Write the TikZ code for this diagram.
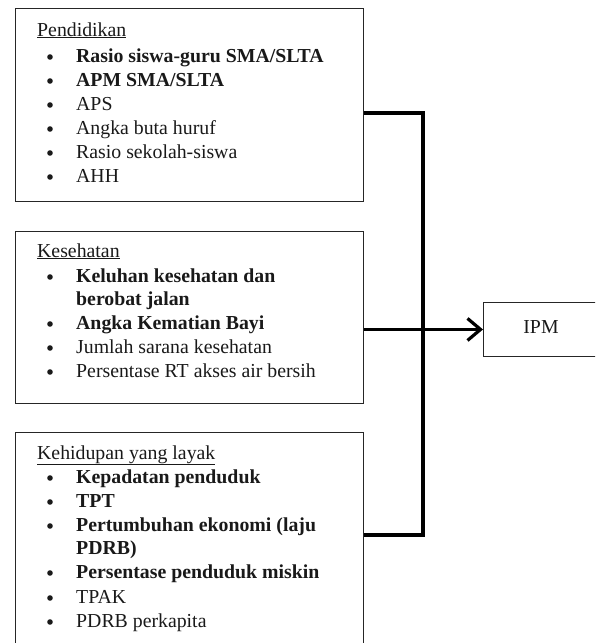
\documentclass[tikz,border=0pt]{standalone}
\usepackage{fontspec}
\setmainfont{Liberation Serif}
\usetikzlibrary{arrows.meta}
\begin{document}
\begin{tikzpicture}[x=1pt,y=-1pt,
  box/.style={draw=black!85,line width=0.9pt,rectangle,inner sep=0pt,anchor=north west},
  txt/.style={anchor=base west,inner sep=0pt,text=black!90,font=\fontsize{19.8}{24}\selectfont},
  bul/.style={circle,fill=black!90,inner sep=0pt,minimum size=5.6pt},
  conn/.style={line width=3.2pt,black}]
\useasboundingbox (0,0) rectangle (595,643);
\clip (0,0) rectangle (595,643);
% boxes
\node[box,minimum width=348pt,minimum height=193pt] (b1) at (15,8) {};
\node[box,minimum width=348pt,minimum height=172pt] (b2) at (15,231) {};
\node[box,minimum width=348pt,minimum height=230pt] (b3) at (15,432) {};
\node[box,minimum width=120pt,minimum height=54pt] (ipm) at (483,302) {};
\node[txt,anchor=base] (ipmt) at (541,333) {IPM};
% Pendidikan
\node[txt] (h1) at (37,36) {\underline{Pendidikan}};
\foreach \y/\t [count=\i] in {62/\textbf{Rasio siswa-guru SMA/SLTA},86/\textbf{APM SMA/SLTA},110/APS,134/Angka buta huruf,158/Rasio sekolah-siswa,182/AHH}{
  \node[bul] (p\i b) at (50,\y-5) {};
  \node[txt] (p\i) at (76,\y) {\t};
}
% Kesehatan
\node[txt] (h2) at (37,257) {\underline{Kesehatan}};
\node[bul] (k1b) at (50,277) {};
\node[txt] (k1) at (76,282) {\textbf{Keluhan kesehatan dan}};
\node[txt] (k1c) at (76,305) {\textbf{berobat jalan}};
\node[bul] (k2b) at (50,324) {};
\node[txt] (k2) at (76,329) {\textbf{Angka Kematian Bayi}};
\node[bul] (k3b) at (50,348) {};
\node[txt] (k3) at (76,353) {Jumlah sarana kesehatan};
\node[bul] (k4b) at (50,372) {};
\node[txt] (k4) at (76,377) {Persentase RT akses air bersih};
% Kehidupan yang layak
\node[txt] (h3) at (37,459) {\underline{Kehidupan yang layak}};
\node[bul] (l1b) at (50,478) {};
\node[txt] (l1) at (76,483) {\textbf{Kepadatan penduduk}};
\node[bul] (l2b) at (50,502) {};
\node[txt] (l2) at (76,507) {\textbf{TPT}};
\node[bul] (l3b) at (50,526) {};
\node[txt] (l3) at (76,531) {\textbf{Pertumbuhan ekonomi (laju}};
\node[txt] (l3c) at (76,554) {\textbf{PDRB)}};
\node[bul] (l4b) at (50,573) {};
\node[txt] (l4) at (76,578) {\textbf{Persentase penduduk miskin}};
\node[bul] (l5b) at (50,598) {};
\node[txt] (l5) at (76,603) {TPAK};
\node[bul] (l6b) at (50,622) {};
\node[txt] (l6) at (76,627) {PDRB perkapita};
% connectors
\coordinate (j1) at (423,113);
\coordinate (j3) at (423,535);
\draw[conn,line join=miter] (b1.east |- j1) -- (j1) -- (j3) -- (b3.east |- j3);
\draw[conn,-{Straight Barb[length=13pt,width=22pt,line width=3.2pt]}] (b2.east |- ipm.west) -- (ipm.west);
\end{tikzpicture}
\end{document}
